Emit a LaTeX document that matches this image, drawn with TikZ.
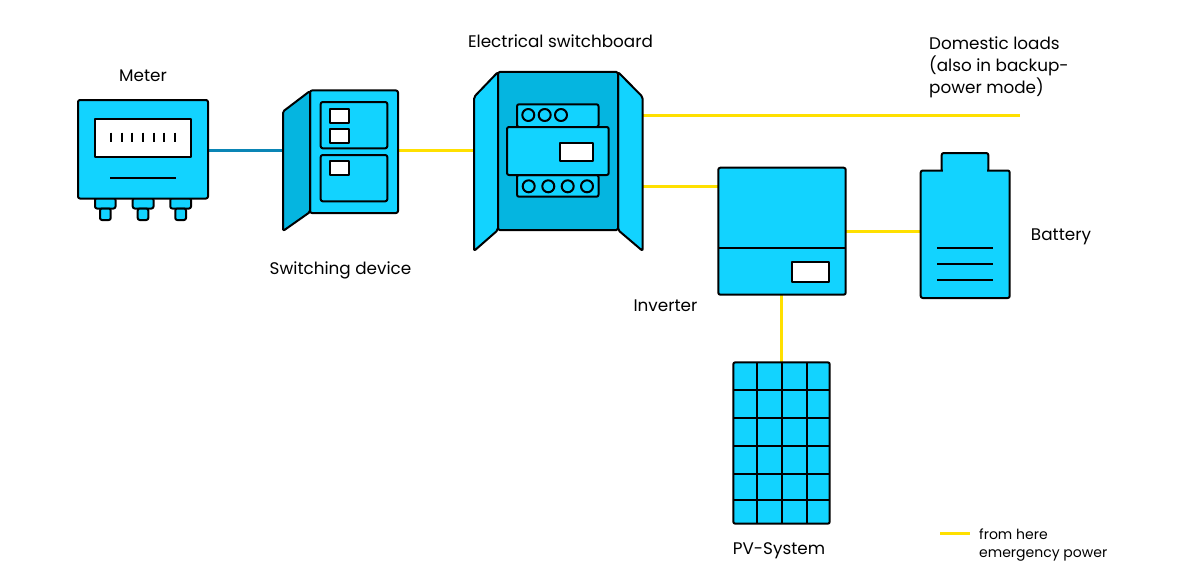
\documentclass[tikz,border=0pt]{standalone}
\usepackage{fontspec}
\setmainfont{Poppins}
\usetikzlibrary{fit}
\definecolor{devblue}{HTML}{12D3FF}
\definecolor{devdark}{HTML}{05B5E0}
\definecolor{linkyellow}{HTML}{FFE000}
\definecolor{linkblue}{HTML}{0A85B5}
\tikzset{
  x=1pt,y=-1pt,
  ink/.style={line width=2pt,draw=black,line join=round},
  dev/.style={ink,fill=devblue,rounded corners=2pt,inner sep=0pt},
  devd/.style={ink,fill=devdark,rounded corners=1.5pt,inner sep=0pt},
  win/.style={ink,fill=white,inner sep=0pt},
  thin line/.style={line width=2pt,draw=black},
  feed/.style={line width=3pt,draw=linkyellow},
  grid feed/.style={line width=3pt,draw=linkblue},
  lbl/.style={font=\fontsize{16.8}{22.3}\selectfont,text=black,inner sep=0pt,anchor=base},
  small/.style={font=\fontsize{14}{18}\selectfont,text=black,inner sep=0pt,anchor=base west}
}
\newcommand{\bx}[6][dev]{\node[#1,fit={(#3,#4)(#5,#6)}] (#2) {};}
\begin{document}
\begin{tikzpicture}
\useasboundingbox (0,0) rectangle (1200,586);
% connection points
\coordinate (swL) at (283,150.5);
\coordinate (swR) at (398,150.5);
\coordinate (cabL) at (474,150.5);
\coordinate (cabRa) at (643,115);
\coordinate (cabRb) at (643,186.5);
\coordinate (loadEnd) at (1020,115);
\coordinate (invL) at (718,186.5);
\coordinate (invR) at (846,231);
\coordinate (batL) at (921,231);
\coordinate (invB) at (781.5,295);
\coordinate (pvT) at (781.5,362);
\coordinate (meterR) at (208,150.5);
\coordinate (legA) at (940,533.5);
\coordinate (legB) at (970,533.5);
% connectors
\draw[grid feed] (meterR) -- (swL);
\draw[feed] (swR) -- (cabL);
\draw[feed] (cabRa) -- (loadEnd);
\draw[feed] (cabRb) -- (invL);
\draw[feed] (invR) -- (batL);
\draw[feed] (invB) -- (pvT);
\draw[feed] (legA) -- (legB);
% meter
\bx{m1a}{95}{198}{115.5}{208.5}
\bx{m2a}{132.7}{198}{153.5}{208.5}
\bx{m3a}{170.3}{198}{191}{208.5}
\bx{m1b}{100}{208.5}{110.7}{220}
\bx{m2b}{137.7}{208.5}{148.3}{220}
\bx{m3b}{175.3}{208.5}{186}{220}
\bx{meter}{78}{100}{208}{198.5}
\bx[win]{mdisp}{95}{119}{191}{156.5}
\foreach \x in {111,121.7,132.3,143,153.7,164.3,175}
  \draw[thin line] (\x,132.5) -- (\x,142);
\draw[thin line] (110,177.5) -- (176,177.5);
% switching device
\bx{sw}{310}{90.5}{398}{213}
\draw[devd] (310,91) -- (283,111.5) -- (283,231) -- (310,212) -- cycle;
\bx{swp1}{320.7}{102}{387.3}{148.3}
\bx{swp2}{320.7}{155}{387.3}{201.3}
\bx[win]{swa}{329.7}{109}{349.3}{122.7}
\bx[win]{swb}{329.7}{128.7}{349.3}{142.7}
\bx[win]{swc}{329.7}{160.7}{349.3}{174.7}
% switchboard
\draw[dev] (498,72) -- (474,97) -- (474,251) -- (498,230) -- cycle;
\draw[dev] (618,72) -- (642.7,97) -- (642.7,251) -- (618,230) -- cycle;
\bx[devd]{cab}{498}{72}{618}{230}
\bx{brkU}{517}{104.3}{598.5}{127}
\bx{brkL}{517}{175}{598.5}{196.7}
\bx{brkM}{507}{127}{608.7}{175}
\bx[win]{brkW}{559.7}{142.7}{593.3}{161.3}
\foreach \x in {528.3,544.7,561}
  \draw[ink] (\x,115) circle (6);
\foreach \x in {528.7,548.3,567.7,587}
  \draw[ink] (\x,186.3) circle (6);
% inverter
\bx{inv}{718.3}{167.7}{845.7}{294.7}
\draw[thin line] (718.3,248.3) -- (845.7,248.3);
\bx[win]{invW}{791.7}{261.7}{828.7}{281.7}
% battery
\bx{batcap}{941.7}{153}{988.3}{180}
\bx{bat}{920.7}{170.5}{1009.7}{298}
\fill[devblue] (943,168) rectangle (987,173);
\foreach \y in {248,263.7,279.7}
  \draw[thin line] (937.3,\y) -- (992.7,\y);
% PV
\bx{pv}{733.3}{362.3}{829.7}{523.7}
\foreach \x in {756.7,781.7,807}
  \draw[thin line] (\x,362.3) -- (\x,523.7);
\foreach \y in {390,418,446,474,499.7}
  \draw[thin line] (733.3,\y) -- (829.7,\y);
% labels
\node[lbl] (lMeter) at (143,81.4) {Meter};
\node[lbl] (lSwitch) at (340.5,274) {Switching device};
\node[lbl] (lBoard) at (560.5,48) {Electrical switchboard};
\node[lbl,anchor=base west,align=left] (lLoads) at (929,94) {Domestic loads\\(also in backup-\\power mode)};
\node[lbl] (lBat) at (1061,240) {Battery};
\node[lbl] (lInv) at (665.5,311) {Inverter};
\node[lbl] (lPV) at (779,554) {PV-System};
\node[small] (lLegA) at (979,539.3) {from here};
\node[small] (lLegB) at (979,557.3) {emergency power};
\end{tikzpicture}
\end{document}
